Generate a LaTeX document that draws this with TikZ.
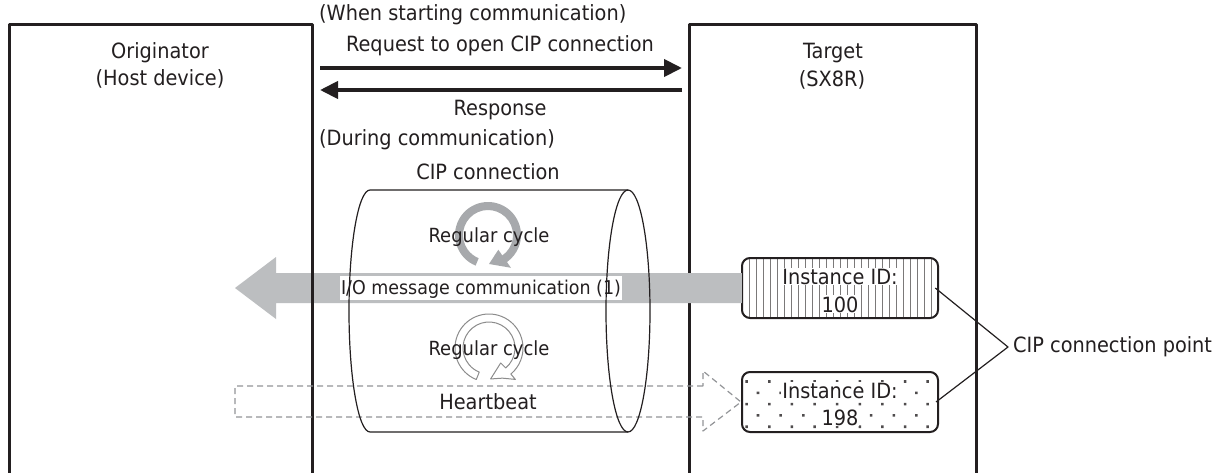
\documentclass[tikz,border=0pt]{standalone}
\usepackage{fontspec}
\setmainfont{DejaVu Sans}[FakeStretch=0.92]
\usetikzlibrary{arrows.meta,patterns.meta}
\definecolor{ink}{HTML}{231F20}
\definecolor{iogray}{HTML}{BCBEC0}
\definecolor{ringfill}{HTML}{A7A9AC}
\definecolor{dashgray}{HTML}{939598}
\definecolor{ringgray}{HTML}{8C8C8C}
\begin{document}
\begin{tikzpicture}[x=1pt, y=-1pt, font=\fontsize{21}{25}\selectfont, text=ink, line join=round,
  devbox/.style={draw=ink, line width=3pt, anchor=north west, inner sep=0pt},
  msgarrow/.style={draw=ink, line width=4pt, -{Triangle[length=18pt,width=17pt]}},
  cyl/.style={draw=ink, line width=1.2pt},
  idbox/.style={draw=ink, line width=2pt, rounded corners=8pt, minimum width=196pt, minimum height=60pt, inner sep=0pt},
  idtxt/.style={fill=white, inner sep=1pt, anchor=base},
  lbl/.style={anchor=base, inner sep=0pt},
  smalllbl/.style={lbl, font=\fontsize{19.5}{23}\selectfont}]
\useasboundingbox[fill=white] (0,0) rectangle (1232,472);
% Geraete
\node[devbox, minimum width=287pt, minimum height=470pt] (tgt) at (688,23) {};
\node[lbl] (tgtname) at (833,58) {Target};
\node[lbl] (tgtsub) at (832,86) {(SX8R)};
% I/O Pfeil (unter dem Target-Rahmen)
\node[idbox, pattern={Lines[angle=90,distance=7pt,line width=0.5pt]}, pattern color=ink!60] (id100) at (840,288) {};
\fill[iogray] (id100.west |- 0,273) -- (276,273) -- (276,257) -- (235,288) -- (276,319) -- (276,303) -- (id100.west |- 0,303) -- cycle;
\node[fill=white, inner sep=0pt, minimum width=282pt, minimum height=24pt] (iolbl) at (481,288) {};
\node[lbl, font=\fontsize{19}{23}\selectfont] (iotxt) at (481,294) {I/O message communication (1)};
\node[devbox, minimum width=303pt, minimum height=470pt] (orig) at (8,23) {};
\node[lbl] (origname) at (160,58) {Originator};
\node[lbl] (origsub) at (160,85) {(Host device)};
% Verbindungsaufbau
\node[lbl, anchor=base west] (start) at (319,20) {(When starting communication)};
\node[lbl] (req) at (500,51) {Request to open CIP connection};
\coordinate (reqS) at (320,68);
\coordinate (reqE) at (682,68);
\draw[msgarrow] (reqS) -- (reqE);
\coordinate (resS) at (682,90);
\coordinate (resE) at (320,90);
\draw[msgarrow] (resS) -- (resE);
\node[lbl] (res) at (500,115) {Response};
\node[lbl, anchor=base west] (during) at (319,145) {(During communication)};
\node[lbl] (cipconn) at (488,179) {CIP connection};
% Heartbeat
\node[idbox, pattern={Dots[radius=1.8pt,distance=16pt,angle=45]}, pattern color=ink!80] (id198) at (840,402) {};
\draw[dashgray, line width=1.2pt, dash pattern=on 6pt off 4pt]
  (703,386) -- (235,386) -- (235,417) -- (703,417) -- (703,431) -- (id198.west) -- (703,371) -- cycle;
\node[lbl] (hb) at (488,409) {Heartbeat};
% Zyklen
\fill[ringfill, shift={(488,235)}]
  (112:33) arc[start angle=112, end angle=415, radius=33] -- (415:40) -- (448:29) -- (415:18) -- (415:25)
  arc[start angle=415, end angle=112, radius=25] -- cycle;
\draw[ringgray, fill=white, line width=1pt, shift={(489,348)}]
  (112:34) arc[start angle=112, end angle=410, radius=34] -- (410:41) -- (426:33) -- (447:31) -- (412:19) -- (410:26)
  arc[start angle=410, end angle=112, radius=26] -- cycle;
\node[smalllbl] (cyc1) at (489,242) {Regular cycle};
\node[smalllbl] (cyc2) at (489,355) {Regular cycle};
% Zylinder
\draw[cyl] (370,190) -- (628,190) (370,432) -- (628,432)
  (370,190) arc[start angle=270, end angle=90, x radius=21, y radius=121];
\draw[cyl] (628,311) ellipse[x radius=22, y radius=121];
% Instanzen
\node[idtxt] (id100a) at (840,284) {Instance ID:};
\node[idtxt] (id100b) at (840,312) {100};
\node[idtxt] (id198a) at (840,398) {Instance ID:};
\node[idtxt] (id198b) at (840,425) {198};
\node[anchor=west, inner sep=0pt, inner xsep=5pt] (cpt) at (1008,347) {CIP connection point};
\draw[cyl] ([xshift=-3pt]id100.east) -- (cpt.west) -- ([xshift=-3pt]id198.east);
\end{tikzpicture}
\end{document}
